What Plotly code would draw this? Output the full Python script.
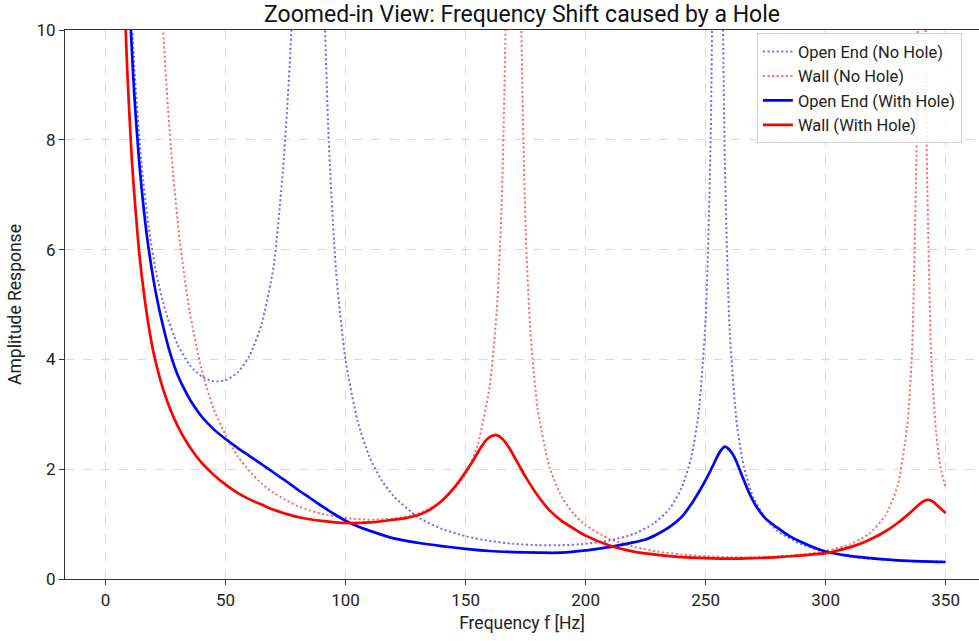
import plotly.graph_objects as go

# ---------------- data ----------------
open_nohole_f = [8, 10, 12, 15, 18, 21, 25, 30, 35, 40, 45, 50, 55, 60, 65, 70, 74, 77, 79, 81,
                 83, 85, 87, 89, 91, 93, 96, 100, 105, 110, 115, 120, 130, 140, 150, 160, 170,
                 180, 190, 200, 210, 220, 228, 235, 240, 244, 247, 250, 252, 253, 255, 257, 258,
                 260, 263, 266, 270, 275, 280, 290, 300, 310, 320, 330, 340, 350]
open_nohole_a = [13.8, 11.1, 9.3, 7.55, 6.4, 5.6, 4.87, 4.27, 3.9, 3.69, 3.6, 3.62, 3.76, 4.07,
                 4.64, 5.69, 7.5, 9.6, 12.4, 18.2, 35.5, 60, 33.8, 16.6, 10.8, 7.96, 5.62, 3.98,
                 2.88, 2.22, 1.8, 1.51, 1.13, 0.915, 0.78, 0.693, 0.641, 0.616, 0.615, 0.641,
                 0.702, 0.82, 1.0, 1.28, 1.66, 2.21, 2.99, 4.72, 7.8, 11.6, 60, 11.5, 7.6, 4.55,
                 2.82, 2.03, 1.47, 1.1, 0.87, 0.63, 0.49, 0.41, 0.365, 0.336, 0.32, 0.317]

wall_nohole_f = [20, 22, 24, 26, 28, 31, 35, 40, 45, 50, 55, 60, 65, 70, 75, 80, 85, 90, 100,
                 110, 120, 130, 140, 150, 155, 160, 163, 165, 167, 170, 173, 175, 177, 180, 185,
                 190, 195, 200, 210, 220, 230, 240, 250, 260, 270, 280, 290, 300, 310, 318, 325,
                 330, 334, 336, 338, 339, 340, 341, 342, 344, 346, 348, 350]
wall_nohole_a = [14.3, 11.8, 10.0, 8.57, 7.44, 6.13, 4.88, 3.82, 3.1, 2.62, 2.24, 1.96, 1.74,
                 1.57, 1.44, 1.33, 1.25, 1.19, 1.11, 1.08, 1.1, 1.19, 1.41, 1.91, 2.44, 3.5,
                 4.9, 6.77, 11.1, 60, 10.8, 6.38, 4.52, 3.11, 2.03, 1.5, 1.19, 0.98, 0.73, 0.59,
                 0.5, 0.446, 0.414, 0.398, 0.397, 0.411, 0.445, 0.51, 0.63, 0.82, 1.16, 1.7, 2.79,
                 4.15, 8.24, 16.4, 60, 16.3, 8.14, 4.06, 2.69, 2.01, 1.65]

open_hole_f = [7, 8, 9, 10, 11, 12, 14, 16, 18, 21, 24, 27, 30, 34, 37, 40, 45, 50, 55, 60, 65,
               70, 75, 80, 85, 90, 95, 100, 105, 110, 120, 130, 140, 150, 160, 170, 180, 190,
               200, 205, 211, 218, 225, 230, 235, 240, 244, 247, 250, 253, 256, 258, 260, 262,
               265, 268, 271, 275, 280, 285, 290, 300, 310, 318.6, 330, 340, 350]
open_hole_a = [14.8, 13.0, 11.6, 10.5, 9.6, 8.8, 7.6, 6.7, 6.0, 5.2, 4.6, 4.1, 3.72, 3.36, 3.14,
               2.96, 2.73, 2.55, 2.39, 2.24, 2.09, 1.94, 1.79, 1.63, 1.48, 1.33, 1.19, 1.06,
               0.96, 0.88, 0.74, 0.66, 0.6, 0.55, 0.51, 0.49, 0.48, 0.48, 0.52, 0.55, 0.59,
               0.65, 0.72, 0.82, 0.95, 1.13, 1.36, 1.57, 1.8, 2.06, 2.32, 2.41, 2.35, 2.22,
               1.9, 1.58, 1.33, 1.1, 0.93, 0.78, 0.67, 0.5, 0.42, 0.38, 0.34, 0.32, 0.31]

wall_hole_f = [6, 8, 9, 10, 11, 12, 14, 16, 18, 20, 23, 26, 30, 35, 40, 45, 50, 55, 60, 65, 70,
               75, 80, 90, 100, 110, 120, 125, 130, 135, 140, 145, 150, 153, 156, 159, 162, 164,
               166, 168, 171, 175, 180, 185, 190, 195, 200, 210, 220, 230, 240, 250, 260, 270,
               280, 290, 300, 305, 311, 316, 320, 325, 330, 335, 338, 341, 343, 345, 347, 350]
wall_hole_a = [14.0, 10.5, 9.3, 8.4, 7.6, 7.0, 5.95, 5.2, 4.6, 4.12, 3.6, 3.2, 2.79, 2.41, 2.12,
               1.9, 1.72, 1.57, 1.45, 1.355, 1.26, 1.19, 1.13, 1.06, 1.02, 1.03, 1.08, 1.11, 1.16,
               1.26, 1.42, 1.65, 1.95, 2.15, 2.37, 2.55, 2.62, 2.6, 2.52, 2.4, 2.17, 1.86, 1.52,
               1.25, 1.06, 0.92, 0.79, 0.61, 0.5, 0.44, 0.4, 0.38, 0.37, 0.38, 0.4, 0.43, 0.47,
               0.52, 0.59, 0.67, 0.75, 0.87, 1.02, 1.2, 1.32, 1.42, 1.44, 1.4, 1.32, 1.2]

x_ticks = [0, 50, 100, 150, 200, 250, 300, 350]
y_ticks = [0, 2, 4, 6, 8, 10]

FONT = "Roboto, 'Open Sans', sans-serif"

fig = go.Figure()
fig.add_trace(go.Scatter(x=open_nohole_f, y=open_nohole_a, mode="lines",
                         name="Open End (No Hole)",
                         line=dict(color="rgba(0,0,255,0.6)", width=2, dash="2px,2.6px",
                                   shape="spline", smoothing=0.6)))
fig.add_trace(go.Scatter(x=wall_nohole_f, y=wall_nohole_a, mode="lines",
                         name="Wall (No Hole)",
                         line=dict(color="rgba(255,0,0,0.6)", width=2, dash="2px,2.6px",
                                   shape="spline", smoothing=0.6)))
fig.add_trace(go.Scatter(x=open_hole_f, y=open_hole_a, mode="lines",
                         name="Open End (With Hole)",
                         line=dict(color="#0000ff", width=2.7, shape="spline", smoothing=0.8)))
fig.add_trace(go.Scatter(x=wall_hole_f, y=wall_hole_a, mode="lines",
                         name="Wall (With Hole)",
                         line=dict(color="#ff0000", width=2.7, shape="spline", smoothing=0.8)))

fig.update_layout(
    width=979, height=641,
    margin=dict(l=65, r=0, t=30, b=62),
    paper_bgcolor="white", plot_bgcolor="white",
    font=dict(family=FONT, size=16, color="#222"),
    title=dict(text="Zoomed-in View: Frequency Shift caused by a Hole",
               x=0.5, xref="paper", y=0.978, yref="container", yanchor="middle",
               font=dict(size=23, color="#111")),
    legend=dict(x=0.757, y=0.994, xanchor="left", yanchor="top",
                bgcolor="rgba(255,255,255,0.85)", bordercolor="#d0d0d0", borderwidth=1,
                font=dict(size=16.5, color="#222"), itemwidth=30, tracegroupgap=0),
    showlegend=True,
)
fig.update_xaxes(range=[-16.9, 363.9], tickvals=x_ticks, ticks="outside", ticklen=5,
                 tickcolor="#333", showline=True, linecolor="#333", linewidth=1.2, mirror=True,
                 showgrid=True, gridcolor="#d9d9d9", griddash="dash", gridwidth=1,
                 zeroline=False, automargin=False, tickfont=dict(size=17),
                 title=dict(text="Frequency f [Hz]", standoff=8, font=dict(size=17.5)))
fig.update_yaxes(range=[0, 10], tickvals=y_ticks, ticks="outside", ticklen=5,
                 tickcolor="#333", showline=True, linecolor="#333", linewidth=1.2, mirror=False,
                 showgrid=True, gridcolor="#d9d9d9", griddash="dash", gridwidth=1,
                 zeroline=False, automargin=False, tickfont=dict(size=17),
                 title=dict(text="Amplitude Response", standoff=10, font=dict(size=17.5)))

fig.write_html("out.html", config={"displayModeBar": False},
               post_script="document.body.style.margin='0';document.body.style.overflow='hidden';")
